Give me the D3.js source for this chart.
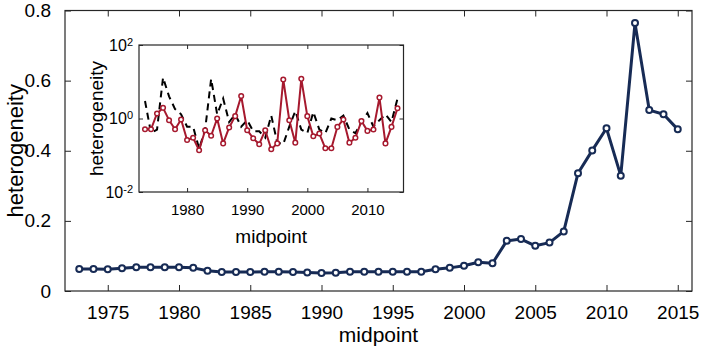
<!DOCTYPE html>
<html lang="en">
<head>
<meta charset="utf-8">
<script src="https://d3js.org/d3.v7.min.js"></script>
<style>
  body { margin: 0; background: #fff; }
  text { font-family: "Liberation Sans", Arial, sans-serif; fill: #000; }
</style>
</head>
<body>
<script>
// ---- data ----
const years = d3.range(1973, 2016);
const heterogeneity = [
  0.063, 0.063, 0.062, 0.065, 0.068, 0.068, 0.068, 0.068, 0.066, 0.058,
  0.054, 0.054, 0.054, 0.055, 0.055, 0.054, 0.053, 0.051, 0.052, 0.055,
  0.055, 0.055, 0.055, 0.055, 0.055, 0.062, 0.066, 0.072, 0.082, 0.079,
  0.143, 0.148, 0.129, 0.138, 0.170, 0.336, 0.401, 0.464, 0.329, 0.764,
  0.516, 0.504, 0.461
];
// inset, log scale
const insetRed = [
  0.51, 0.51, 1.37, 1.95, 0.9, 0.51, 0.94, 0.26, 0.30, 0.137,
  0.48, 0.34, 1.0, 0.21, 0.57, 1.16, 4.1, 0.48, 0.29, 0.20,
  0.48, 0.145, 0.21, 11.5, 0.9, 0.22, 12, 1.16, 0.33, 0.39,
  0.155, 0.155, 0.59, 0.94, 0.22, 0.30, 0.85, 0.46, 0.5, 3.7,
  0.21, 0.59, 1.9
];
const insetDashed = [
  3.0, 0.4, 0.5, 13, 4, 1.8, 1.3, 0.6, 0.6, 0.15,
  0.5, 12, 1.3, 3.5, 0.8, 1.3, 0.6, 0.9, 0.45, 0.45,
  0.3, 1.2, 0.22, 0.2, 0.6, 1.6, 0.5, 0.4, 1.5, 0.5,
  0.4, 1.0, 0.9, 1.2, 0.5, 0.4, 0.8, 1.4, 0.6, 0.9,
  1.3, 0.8, 3.5
];
const mainXTicks = [1975, 1980, 1985, 1990, 1995, 2000, 2005, 2010, 2015];
const mainYTicks = [0, 0.2, 0.4, 0.6, 0.8];
const insetXTicks = [1980, 1990, 2000, 2010];
const insetYTicks = [0.01, 1, 100];

const navy = "#172b55";
const red = "#a6192e";
const frame = "#262626";

const svg = d3.select("body").append("svg")
  .attr("width", 702).attr("height", 350);

// ---- main axes ----
const x = d3.scaleLinear().domain([1972, 2016]).range([65, 692]);
const y = d3.scaleLinear().domain([0, 0.8]).range([291, 10.5]);

function styleAxis(g) {
  g.selectAll("path.domain").remove();
  g.selectAll("line").attr("stroke", frame);
}

svg.append("g")
  .attr("transform", `translate(0,${y(0)})`)
  .call(d3.axisBottom(x).tickValues(mainXTicks).tickFormat(d3.format("d"))
    .tickSizeInner(-6).tickSizeOuter(0).tickPadding(15))
  .call(styleAxis)
  .selectAll("text").attr("font-size", 19);
svg.append("g")
  .attr("transform", `translate(0,${y(0.8)})`)
  .call(d3.axisTop(x).tickValues(mainXTicks).tickFormat("").tickSizeInner(-6).tickSizeOuter(0))
  .call(styleAxis);
svg.append("g")
  .attr("transform", `translate(${x(1972)},0)`)
  .call(d3.axisLeft(y).tickValues(mainYTicks).tickFormat(d => d === 0 ? "0" : d3.format(".1f")(d))
    .tickSizeInner(-6).tickSizeOuter(0).tickPadding(14))
  .call(styleAxis)
  .selectAll("text").attr("font-size", 19);
svg.append("g")
  .attr("transform", `translate(${x(2016)},0)`)
  .call(d3.axisRight(y).tickValues(mainYTicks).tickFormat("").tickSizeInner(-6).tickSizeOuter(0))
  .call(styleAxis);
svg.append("rect")
  .attr("x", x(1972)).attr("y", y(0.8))
  .attr("width", x(2016) - x(1972)).attr("height", y(0) - y(0.8))
  .attr("fill", "none").attr("stroke", frame).attr("stroke-width", 1.2);

svg.append("text").attr("x", (x(1972) + x(2016)) / 2).attr("y", 342)
  .attr("text-anchor", "middle").attr("font-size", 21).text("midpoint");
svg.append("text")
  .attr("transform", `translate(23,${(y(0) + y(0.8)) / 2}) rotate(-90)`)
  .attr("text-anchor", "middle").attr("font-size", 22).text("heterogeneity");

const mainData = years.map((yr, i) => ({ x: yr, y: heterogeneity[i] }));
svg.append("path").datum(mainData)
  .attr("fill", "none").attr("stroke", navy).attr("stroke-width", 3)
  .attr("stroke-linejoin", "round")
  .attr("d", d3.line().x(d => x(d.x)).y(d => y(d.y)));
svg.append("g").selectAll("circle").data(mainData).enter().append("circle")
  .attr("cx", d => x(d.x)).attr("cy", d => y(d.y)).attr("r", 3)
  .attr("fill", "#fff").attr("stroke", navy).attr("stroke-width", 2);

// ---- inset ----
const ix = d3.scaleLinear().domain([1972, 2016]).range([139, 403.5]);
const iy = d3.scaleLog().domain([0.01, 100]).range([192, 45]);

svg.append("rect")
  .attr("x", ix(1972)).attr("y", iy(100))
  .attr("width", ix(2016) - ix(1972)).attr("height", iy(0.01) - iy(100))
  .attr("fill", "#fff");

svg.append("g")
  .attr("transform", `translate(0,${iy(0.01)})`)
  .call(d3.axisBottom(ix).tickValues(insetXTicks).tickFormat(d3.format("d"))
    .tickSizeInner(-4).tickSizeOuter(0).tickPadding(12))
  .call(styleAxis)
  .selectAll("text").attr("font-size", 15);
svg.append("g")
  .attr("transform", `translate(0,${iy(100)})`)
  .call(d3.axisTop(ix).tickValues(insetXTicks).tickFormat("").tickSizeInner(-4).tickSizeOuter(0))
  .call(styleAxis);
const iyAxis = svg.append("g")
  .attr("transform", `translate(${ix(1972)},0)`)
  .call(d3.axisLeft(iy).tickValues(insetYTicks).tickFormat("")
    .tickSizeInner(-4).tickSizeOuter(0).tickPadding(6))
  .call(styleAxis);
iyAxis.selectAll(".tick text").each(function (d) {
  const t = d3.select(this).attr("font-size", 16);
  t.append("tspan").text("10");
  t.append("tspan").attr("dy", "-0.45em").attr("font-size", 11).text(Math.round(Math.log10(d)));
});
svg.append("g")
  .attr("transform", `translate(${ix(2016)},0)`)
  .call(d3.axisRight(iy).tickValues(insetYTicks).tickFormat("").tickSizeInner(-4).tickSizeOuter(0))
  .call(styleAxis);

const redData = years.map((yr, i) => ({ x: yr, y: insetRed[i] }));
const dashData = years.map((yr, i) => ({ x: yr, y: insetDashed[i] }));
const iline = d3.line().x(d => ix(d.x)).y(d => iy(d.y));

svg.append("path").datum(dashData)
  .attr("fill", "none").attr("stroke", "#000").attr("stroke-width", 2)
  .attr("stroke-dasharray", "7,5")
  .attr("d", iline);
svg.append("path").datum(redData)
  .attr("fill", "none").attr("stroke", red).attr("stroke-width", 2)
  .attr("stroke-linejoin", "round")
  .attr("d", iline);
svg.append("g").selectAll("circle").data(redData).enter().append("circle")
  .attr("cx", d => ix(d.x)).attr("cy", d => iy(d.y)).attr("r", 2.3)
  .attr("fill", "#fff").attr("stroke", red).attr("stroke-width", 1.5);

svg.append("rect")
  .attr("x", ix(1972)).attr("y", iy(100))
  .attr("width", ix(2016) - ix(1972)).attr("height", iy(0.01) - iy(100))
  .attr("fill", "none").attr("stroke", frame).attr("stroke-width", 1.2);

svg.append("text").attr("x", (ix(1972) + ix(2016)) / 2).attr("y", 243)
  .attr("text-anchor", "middle").attr("font-size", 19).text("midpoint");
svg.append("text")
  .attr("transform", `translate(103,${(iy(0.01) + iy(100)) / 2}) rotate(-90)`)
  .attr("text-anchor", "middle").attr("font-size", 19).text("heterogeneity");
</script>
</body>
</html>
